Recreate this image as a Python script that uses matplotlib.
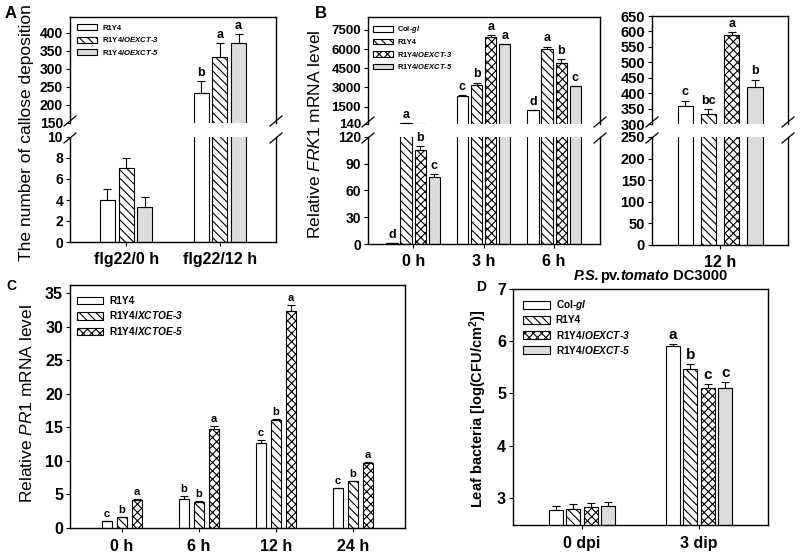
import matplotlib
matplotlib.use("Agg")
import matplotlib.pyplot as plt
from matplotlib.patches import Patch
from matplotlib.lines import Line2D
import numpy as np

plt.rcParams['font.family'] = 'Liberation Sans'
plt.rcParams['mathtext.fontset'] = 'custom'
plt.rcParams['mathtext.rm'] = 'Liberation Sans'
plt.rcParams['mathtext.it'] = 'Liberation Sans:italic'
plt.rcParams['mathtext.bf'] = 'Liberation Sans:italic:bold'
plt.rcParams['mathtext.default'] = 'regular'
plt.rcParams['hatch.linewidth'] = 0.8
plt.rcParams['axes.linewidth'] = 1.0

# ---------------- data ----------------
# Panel A
A_groups = ['flg22/0 h', 'flg22/12 h']
A_series = ['R1Y4', r'R1Y4/$\mathbf{OEXCT}$-$\mathbf{3}$', r'R1Y4/$\mathbf{OEXCT}$-$\mathbf{5}$']
A_r1y4 = [4.0, 232]
A_oe3 = [7.0, 332]
A_oe5 = [3.3, 372]
A_r1y4_err = [1.0, 33]
A_oe3_err = [1.0, 38]
A_oe5_err = [1.0, 23]
A_r1y4_let = ['', 'b']
A_oe3_let = ['', 'a']
A_oe5_let = ['', 'a']

# Panel B (0, 3, 6 h)
B_groups = ['0 h', '3 h', '6 h']
B_series = [r'Col-$\mathbf{gl}$', 'R1Y4', r'R1Y4/$\mathbf{OEXCT}$-$\mathbf{3}$', r'R1Y4/$\mathbf{OEXCT}$-$\mathbf{5}$']
B_col = [1.0, 2330, 1240]
B_r1y4 = [200, 3200, 6000]
B_oe3 = [105, 6970, 4890]
B_oe5 = [75.5, 6380, 3120]
B_col_err = [0.3, 90, 0]
B_r1y4_err = [0, 180, 200]
B_oe3_err = [4.8, 130, 340]
B_oe5_err = [3.0, 40, 0]
B_col_let = ['d', 'c', 'd']
B_r1y4_let = ['a', 'b', 'a']
B_oe3_let = ['b', 'a', 'b']
B_oe5_let = ['c', 'a', 'c']

# Panel B (12 h)
B12_groups = ['12 h']
B12_col = [359]
B12_r1y4 = [331]
B12_oe3 = [587]
B12_oe5 = [420]
B12_col_err = [17]
B12_r1y4_err = [17]
B12_oe3_err = [12]
B12_oe5_err = [24]
B12_col_let = ['c']
B12_r1y4_let = ['bc']
B12_oe3_let = ['a']
B12_oe5_let = ['b']

# Panel C
C_groups = ['0 h', '6 h', '12 h', '24 h']
C_series = ['R1Y4', r'R1Y4/$\mathbf{XCTOE}$-$\mathbf{3}$', r'R1Y4/$\mathbf{XCTOE}$-$\mathbf{5}$']
C_r1y4 = [1.0, 4.37, 12.66, 5.9]
C_oe3 = [1.64, 3.87, 16.04, 6.95]
C_oe5 = [4.22, 14.8, 32.3, 9.73]
C_r1y4_err = [0.05, 0.4, 0.5, 0.1]
C_oe3_err = [0.05, 0.1, 0.15, 0.1]
C_oe5_err = [0.1, 0.4, 0.95, 0.1]
C_r1y4_let = ['c', 'b', 'c', 'c']
C_oe3_let = ['b', 'b', 'b', 'b']
C_oe5_let = ['a', 'a', 'a', 'a']

# Panel D
D_groups = ['0 dpi', '3 dip']
D_series = [r'Col-$\mathbf{gl}$', 'R1Y4', r'R1Y4/$\mathbf{OEXCT}$-$\mathbf{3}$', r'R1Y4/$\mathbf{OEXCT}$-$\mathbf{5}$']
D_col = [2.764, 5.907]
D_r1y4 = [2.78, 5.46]
D_oe3 = [2.83, 5.096]
D_oe5 = [2.85, 5.11]
D_col_err = [0.085, 0.04]
D_r1y4_err = [0.11, 0.1]
D_oe3_err = [0.065, 0.077]
D_oe5_err = [0.065, 0.1]
D_col_let = ['', 'a']
D_r1y4_let = ['', 'b']
D_oe3_let = ['', 'c']
D_oe5_let = ['', 'c']

# ---------------- styles ----------------
S_WHITE = dict(facecolor='white', edgecolor='black', hatch=None)
S_DIAG = dict(facecolor='white', edgecolor='black', hatch='\\\\\\\\')
S_CROSS = dict(facecolor='white', edgecolor='black', hatch='xxxx')
S_GRAY = dict(facecolor='#dcdcdc', edgecolor='black', hatch=None)

W, H = 800, 559
fig = plt.figure(figsize=(W / 100, H / 100), dpi=100)


def box(l, t, r, b):
    return [l / W, 1 - b / H, (r - l) / W, (b - t) / H]


def style_axes(ax, top=True, bottom=True, ticksize=9):
    ax.spines['top'].set_visible(top)
    ax.spines['bottom'].set_visible(bottom)
    ax.tick_params(axis='both', direction='out', length=3, width=0.8,
                   labelsize=ticksize, pad=2)
    ax.tick_params(axis='y', right=False)
    for lab in ax.get_yticklabels():
        lab.set_fontweight('bold')


def draw_bars(axes, nx, series_vals, series_err, series_let, styles, width, step, letfs):
    n = len(series_vals)
    x = np.arange(nx)
    for i in range(n):
        xs = x + (i - (n - 1) / 2) * step
        for ax in axes:
            ax.bar(xs, series_vals[i], width, linewidth=0.8, zorder=2, **styles[i])
        for j, v in enumerate(series_vals[i]):
            e = series_err[i][j]
            for ax in axes:
                lo, hi = ax.get_ylim()
                if lo <= v <= hi:
                    ax.errorbar(xs[j], v, yerr=[[0], [e]], fmt='none', ecolor='black',
                                elinewidth=0.8, capsize=3, capthick=0.8, zorder=3)
                    if series_let[i][j]:
                        ax.annotate(series_let[i][j], (xs[j], v + e), xytext=(0, 1.5),
                                    textcoords='offset points', ha='center', va='bottom',
                                    fontsize=letfs, fontweight='bold', annotation_clip=False)


def add_legend(ax, labels, styles, anchor, fs, spacing=0.35):
    handles = [Patch(label=l, linewidth=0.8, **s) for l, s in zip(labels, styles)]
    ax.legend(handles=handles, loc='upper left', bbox_to_anchor=anchor, frameon=False,
              prop=dict(weight='bold', size=fs), handlelength=2.6, handleheight=0.75,
              labelspacing=spacing, handletextpad=0.6, borderaxespad=0, borderpad=0)


def brk(xp, yp, s=6):
    fig.add_artist(Line2D([(xp - s) / W, (xp + s) / W], [1 - (yp + 5) / H, 1 - (yp - 5) / H],
                          transform=fig.transFigure, color='black', lw=0.9))


def xlabels_bold(ax, size, pad):
    ax.tick_params(axis='x', labelsize=size, pad=pad)
    for lab in ax.get_xticklabels():
        lab.set_fontweight('bold')


# ---------------- Panel A ----------------
aU = fig.add_axes(box(70, 17, 276, 123))
aL = fig.add_axes(box(70, 137, 276, 242))
aU.set_ylim(150, 443)
aL.set_ylim(0, 10)
for ax in (aU, aL):
    ax.set_xlim(-0.6, 1.6)
aU.set_yticks([150, 200, 250, 300, 350, 400])
aL.set_yticks([0, 2, 4, 6, 8, 10])
aU.set_xticks([])
aL.set_xticks([0, 1])
aL.set_xticklabels(A_groups)
style_axes(aU, top=True, bottom=False, ticksize=10)
style_axes(aL, top=False, bottom=True, ticksize=10)
xlabels_bold(aL, 11.5, 4)
A_styles = [S_WHITE, S_DIAG, S_GRAY]
draw_bars([aU, aL], 2, [A_r1y4, A_oe3, A_oe5], [A_r1y4_err, A_oe3_err, A_oe5_err],
          [A_r1y4_let, A_oe3_let, A_oe5_let], A_styles, 0.16, 0.2, 9)
add_legend(aU, A_series, A_styles, (0.035, 0.93), 5.6, 0.45)
for xp in (70, 276):
    brk(xp, 121)
    brk(xp, 138)
fig.text(27 / W, 1 - 133 / H, 'The number of callose deposition', rotation=90,
         ha='center', va='center', fontsize=12.5)
fig.text(11 / W, 1 - 13 / H, 'A', ha='center', va='center', fontsize=12, fontweight='bold')

# ---------------- Panel B (main) ----------------
bU = fig.add_axes(box(368, 17, 600, 124))
bL = fig.add_axes(box(368, 137, 600, 244))
bU.set_ylim(140, 8510)
bL.set_ylim(0, 120)
for ax in (bU, bL):
    ax.set_xlim(-0.64, 2.65)
bU.set_yticks([140, 1500, 3000, 4500, 6000, 7500])
bL.set_yticks([0, 30, 60, 90, 120])
bU.set_xticks([])
bL.set_xticks([0, 1, 2])
bL.set_xticklabels(B_groups)
style_axes(bU, top=True, bottom=False, ticksize=9.5)
style_axes(bL, top=False, bottom=True, ticksize=10)
xlabels_bold(bL, 11.5, 4)
B_styles = [S_WHITE, S_DIAG, S_CROSS, S_GRAY]
draw_bars([bU, bL], 3, [B_col, B_r1y4, B_oe3, B_oe5],
          [B_col_err, B_r1y4_err, B_oe3_err, B_oe5_err],
          [B_col_let, B_r1y4_let, B_oe3_let, B_oe5_let], B_styles, 0.16, 0.2, 9)
add_legend(bU, B_series, B_styles, (0.022, 0.93), 5.4, 0.45)
for xp in (368, 600):
    brk(xp, 122)
    brk(xp, 138)
fig.text(315 / W, 1 - 134 / H, r'Relative $\mathit{FRK1}$ mRNA level', rotation=90,
         ha='center', va='center', fontsize=12.5)
fig.text(321 / W, 1 - 13 / H, 'B', ha='center', va='center', fontsize=12, fontweight='bold')

# ---------------- Panel B (12 h) ----------------
cU = fig.add_axes(box(652, 16, 788, 124))
cL = fig.add_axes(box(652, 137, 788, 245))
cU.set_ylim(300, 650)
cL.set_ylim(0, 250)
for ax in (cU, cL):
    ax.set_xlim(-0.584, 0.584)
cU.set_yticks([300, 350, 400, 450, 500, 550, 600, 650])
cL.set_yticks([0, 50, 100, 150, 200, 250])
cU.set_xticks([])
cL.set_xticks([0])
cL.set_xticklabels(B12_groups)
style_axes(cU, top=True, bottom=False, ticksize=10.5)
style_axes(cL, top=False, bottom=True, ticksize=10.5)
xlabels_bold(cL, 11.5, 4)
draw_bars([cU, cL], 1, [B12_col, B12_r1y4, B12_oe3, B12_oe5],
          [B12_col_err, B12_r1y4_err, B12_oe3_err, B12_oe5_err],
          [B12_col_let, B12_r1y4_let, B12_oe3_let, B12_oe5_let], B_styles, 0.13, 0.2, 9)
for xp in (652, 788):
    brk(xp, 122)
    brk(xp, 138)

# ---------------- Panel C ----------------
axC = fig.add_axes(box(70, 285, 405, 528))
axC.set_ylim(0, 36.2)
axC.set_xlim(-0.675, 3.675)
axC.set_yticks([0, 5, 10, 15, 20, 25, 30, 35])
axC.set_xticks(np.arange(len(C_groups)))
axC.set_xticklabels(C_groups)
style_axes(axC, ticksize=11.5)
xlabels_bold(axC, 11.5, 5)
C_styles = [S_WHITE, S_DIAG, S_CROSS]
draw_bars([axC], 4, [C_r1y4, C_oe3, C_oe5], [C_r1y4_err, C_oe3_err, C_oe5_err],
          [C_r1y4_let, C_oe3_let, C_oe5_let], C_styles, 0.13, 0.195, 8)
add_legend(axC, C_series, C_styles, (0.021, 0.955), 7.3, 0.35)
fig.text(27 / W, 1 - 404 / H, r'Relative $\mathit{PR1}$ mRNA level', rotation=90,
         ha='center', va='center', fontsize=12.5)
fig.text(11 / W, 1 - 286 / H, 'C', ha='center', va='center', fontsize=10, fontweight='bold')

# ---------------- Panel D ----------------
axD = fig.add_axes(box(513, 289, 768, 525))
axD.set_ylim(2.48, 7)
axD.set_xlim(-0.59, 1.59)
axD.set_yticks([3, 4, 5, 6, 7])
axD.set_xticks([0, 1])
axD.set_xticklabels(D_groups)
style_axes(axD, ticksize=11.5)
xlabels_bold(axD, 11.5, 5)
D_styles = [S_WHITE, S_DIAG, S_CROSS, S_GRAY]
draw_bars([axD], 2, [D_col, D_r1y4, D_oe3, D_oe5],
          [D_col_err, D_r1y4_err, D_oe3_err, D_oe5_err],
          [D_col_let, D_r1y4_let, D_oe3_let, D_oe5_let], D_styles, 0.12, 0.15, 11)
add_legend(axD, D_series, D_styles, (0.04, 0.96), 7.3, 0.3)
fig.text(478 / W, 1 - 409 / H, 'Leaf bacteria [log(CFU/cm$^2$)]', rotation=90,
         ha='center', va='center', fontsize=10.5, fontweight='bold')
# title built from pieces (italic / upright)
title_parts = [('P.S.', 'italic'), ('pv.', 'normal'), ('tomato', 'italic'), (' DC3000', 'normal')]
prev = fig.text(574 / W, 1 - 283 / H, title_parts[0][0], fontstyle=title_parts[0][1],
                fontweight='bold', fontsize=10.5, ha='left', va='bottom')
for txt, st in title_parts[1:]:
    prev = axD.annotate(txt, xy=(1, 0), xycoords=prev, ha='left', va='bottom',
                        fontstyle=st, fontweight='bold', fontsize=10.5, annotation_clip=False)
fig.text(481 / W, 1 - 287 / H, 'D', ha='center', va='center', fontsize=10, fontweight='bold')

fig.savefig('out.png', dpi=100)
